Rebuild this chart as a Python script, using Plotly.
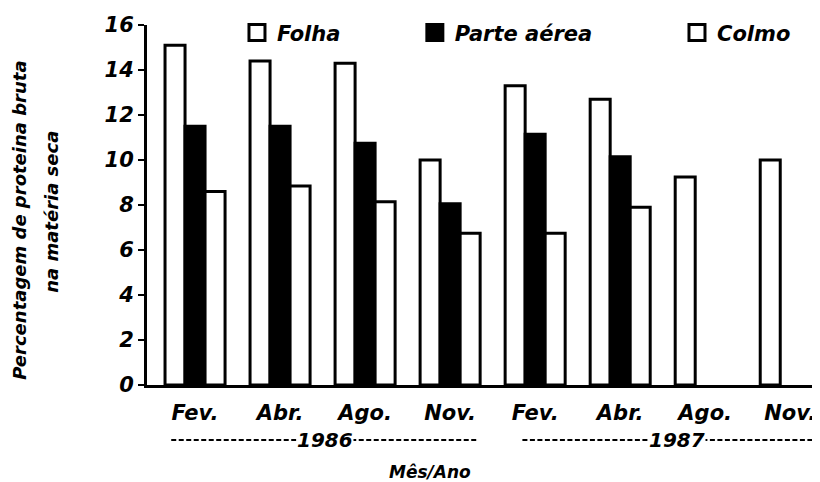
import plotly.graph_objects as go

# ---- data ----
months = ["Fev.", "Abr.", "Ago.", "Nov.", "Fev.", "Abr.", "Ago.", "Nov."]
years = ["1986", "1987"]
folha = [15.1, 14.4, 14.3, 10.0, 13.3, 12.7, 9.25, 10.0]
parte_aerea = [11.5, 11.5, 10.75, 8.05, 11.15, 10.15, None, None]
colmo = [8.6, 8.85, 8.15, 6.75, 6.75, 7.9, None, None]
series_names = ["Folha", "Parte aérea", "Colmo"]

FONT = "DejaVu Sans"
pos = list(range(len(months)))

fig = go.Figure()
fills = ["white", "black", "white"]
values = [folha, parte_aerea, colmo]
legends = ["legend", "legend2", "legend3"]
for name, vals, fc in zip(series_names, values, fills):
    fig.add_trace(go.Bar(
        x=pos, y=vals, name=name, showlegend=False,
        marker=dict(color=fc, line=dict(color="black", width=3)),
    ))
# legend proxies
for name, fc, lg in zip(series_names, fills, legends):
    fig.add_trace(go.Scatter(
        x=[None], y=[None], mode="markers", name=name, legend=lg,
        marker=dict(symbol="square", size=16, color=fc,
                    line=dict(color="black", width=3)),
    ))

bold_it = dict(family=FONT, weight="bold", style="italic", color="black")

leg_common = dict(orientation="h", yanchor="middle", y=0.978, xanchor="left",
                  bgcolor="rgba(0,0,0,0)", font=dict(bold_it, size=21),
                  itemwidth=30)

fig.update_layout(
    width=812, height=474,
    margin=dict(l=139, r=0, t=17, b=97),
    paper_bgcolor="white", plot_bgcolor="white",
    barmode="group", bargap=0.294, bargroupgap=0,
    legend=dict(leg_common, x=0.1337),
    legend2=dict(leg_common, x=0.398),
    legend3=dict(leg_common, x=0.7875),
    xaxis=dict(
        range=[-0.565, 7.35], tickvals=pos, ticktext=months,
        showline=True, linewidth=3, linecolor="black", ticks="",
        ticklabelstandoff=7,
        showgrid=False, zeroline=False,
        tickfont=dict(bold_it, size=21),
    ),
    yaxis=dict(
        range=[0, 16], dtick=2, showline=True, linewidth=3, linecolor="black",
        ticks="outside", ticklen=6, tickwidth=2, tickcolor="black",
        showgrid=False, zeroline=False,
        tickfont=dict(bold_it, size=21),
    ),
)

# year separators (dashed lines with year labels)
year_spans = [(-0.28, 3.31, 1.53), (3.85, 7.35, 5.67)]
for yr, (a, b, c) in zip(years, year_spans):
    fig.add_shape(type="line", xref="x", yref="paper", x0=a, x1=b,
                  y0=-0.153, y1=-0.153,
                  line=dict(color="black", width=2, dash="5px,2.5px"))
    fig.add_annotation(text=yr, xref="x", yref="paper", x=c, y=-0.153,
                       showarrow=False, bgcolor="white", borderpad=0,
                       font=dict(bold_it, size=20),
                       xanchor="center", yanchor="middle")

# axis titles
fig.add_annotation(text="Mês/Ano", xref="paper", yref="paper", x=0.4205, y=-0.2417,
                   showarrow=False, font=dict(bold_it, size=17),
                   xanchor="center", yanchor="middle")
fig.add_annotation(text="Percentagem de proteina bruta", xref="paper", yref="paper",
                   x=-0.1887, y=0.456, textangle=-90, showarrow=False,
                   font=dict(bold_it, size=18), xanchor="center", yanchor="middle")
fig.add_annotation(text="na matéria seca", xref="paper", yref="paper",
                   x=-0.1412, y=0.481, textangle=-90, showarrow=False,
                   font=dict(bold_it, size=18), xanchor="center", yanchor="middle")

fig.write_html("out.html")
